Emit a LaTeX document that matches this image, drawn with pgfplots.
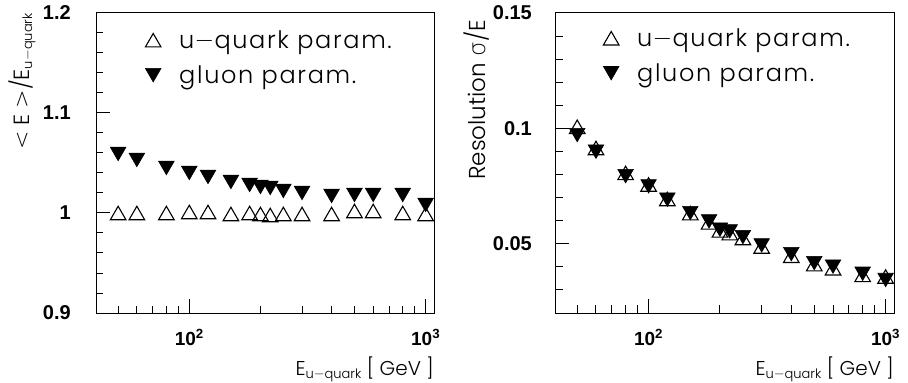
\documentclass[border=0pt]{standalone}
\usepackage{pgfplots}
\pgfplotsset{compat=1.18}
\usepackage{fontspec}
\setmainfont{DejaVu Sans}
\newfontfamily\lightfont{Poppins Light}
\newfontfamily\legfont{Poppins Light}[LetterSpace=7]
\newfontfamily\djl{DejaVu Sans ExtraLight}
\newfontfamily\tickfont{Liberation Sans}
\newcommand{\sub}[1]{\raisebox{-3pt}{\fontsize{13}{14}\selectfont #1}}
\newcommand{\mn}{{\djl −}}

\pgfplotstableread{
x u g
50 1.000 1.059
60 1.000 1.053
80 1.000 1.045
100 1.001 1.040
120 1.001 1.036
150 0.999 1.031
180 1.000 1.028
200 0.999 1.026
220 0.998 1.025
250 0.999 1.022
300 0.999 1.020
400 0.999 1.017
500 1.002 1.018
600 1.002 1.018
800 1.000 1.018
1000 0.999 1.008
}\meantab

\pgfplotstableread{
x u g
50 0.1007 0.0971
60 0.0915 0.0899
80 0.0807 0.0793
100 0.0757 0.0749
120 0.0694 0.0691
150 0.0633 0.0633
180 0.0593 0.0597
200 0.0558 0.0561
220 0.0546 0.0554
250 0.0525 0.0529
300 0.0488 0.0493
400 0.0448 0.0455
500 0.0412 0.0416
600 0.0394 0.0401
800 0.0365 0.0370
1000 0.0358 0.0343
}\restab

\begin{document}
\begin{tikzpicture}
\begin{axis}[
  scale only axis, width=338pt, height=300pt,
  xmode=log, xmin=40.3, xmax=1085,
  tick align=inside, xtick pos=bottom, ytick pos=left,
  major tick length=14pt, minor tick length=7.5pt,
  axis line style={line width=1pt},
  every tick/.style={line width=1pt, black},
  xtick={100,1000},
  xticklabels={10\textsuperscript{2},10\textsuperscript{3}},
  minor xtick={50,60,70,80,90,200,300,400,500,600,700,800,900},
  xticklabel style={font=\fontsize{19}{21}\selectfont\tickfont\bfseries, anchor=base, inner sep=0pt, yshift=-32pt},
  yticklabel style={font=\fontsize{20}{22}\selectfont\tickfont\bfseries, anchor=east, inner sep=0pt, xshift=-25pt},
  scaled y ticks=false,
  xlabel style={at={(axis description cs:1,0)}, anchor=base east, yshift=-62pt, inner sep=0pt, font=\fontsize{20}{24}\selectfont\lightfont},
  legend cell align=left,
  legend image code/.code={\path[draw=none,fill=none] (-8pt,-12pt) rectangle (26pt,12pt); \draw[#1] plot coordinates {(0pt,0pt)};},
  legend style={draw=none, fill=none, at={(axis description cs:0,1)}, anchor=north west,
    font=\fontsize{24}{28}\selectfont\legfont, nodes={inner sep=0pt, font=\fontsize{24}{28}\selectfont\legfont}, row sep=11pt, inner sep=0pt,
    xshift=49pt, yshift=-15pt},
  ymin=0.9, ymax=1.2, ytick={0.9,1,1.1,1.2}, yticklabels={0.9,1,1.1,1.2},
  minor ytick={0.92,0.94,0.96,0.98,1.02,1.04,1.06,1.08,1.12,1.14,1.16,1.18},
  xlabel={E\sub{u\mn quark} [ GeV ]},
  ylabel={{\djl <} E {\djl >}/E\sub{u\mn quark}},
  ylabel style={at={(axis description cs:-0.219,1)}, anchor=east, inner sep=0pt, font=\fontsize{22}{24}\selectfont\lightfont},
]
\addplot[only marks, mark=triangle, mark size=9pt, line width=1.1pt, black, mark options={yshift=-2.25pt}] table[x=x, y=u] {\meantab};
\addlegendentry{u\mn quark param.}
\addplot[only marks, mark=triangle*, mark size=9pt, line width=0.6pt, black, mark options={fill=black, yshift=2.25pt, rotate=180}] table[x=x, y=g] {\meantab};
\addlegendentry{gluon param.}
\end{axis}

\begin{axis}[
  at={(459pt,0pt)},
  scale only axis, width=339pt, height=300pt,
  xmode=log, xmin=40.3, xmax=1085,
  tick align=inside, xtick pos=bottom, ytick pos=left,
  major tick length=14pt, minor tick length=7.5pt,
  axis line style={line width=1pt},
  every tick/.style={line width=1pt, black},
  xtick={100,1000},
  xticklabels={10\textsuperscript{2},10\textsuperscript{3}},
  minor xtick={50,60,70,80,90,200,300,400,500,600,700,800,900},
  xticklabel style={font=\fontsize{19}{21}\selectfont\tickfont\bfseries, anchor=base, inner sep=0pt, yshift=-32pt},
  yticklabel style={font=\fontsize{20}{22}\selectfont\tickfont\bfseries, anchor=east, inner sep=0pt, xshift=-23pt},
  scaled y ticks=false,
  xlabel style={at={(axis description cs:1,0)}, anchor=base east, yshift=-62pt, inner sep=0pt, font=\fontsize{20}{24}\selectfont\lightfont},
  legend cell align=left,
  legend image code/.code={\path[draw=none,fill=none] (-8pt,-12pt) rectangle (26pt,12pt); \draw[#1] plot coordinates {(0pt,0pt)};},
  legend style={draw=none, fill=none, at={(axis description cs:0,1)}, anchor=north west,
    font=\fontsize{24}{28}\selectfont\legfont, nodes={inner sep=0pt, font=\fontsize{24}{28}\selectfont\legfont}, row sep=11pt, inner sep=0pt,
    xshift=48pt, yshift=-13pt},
  ymin=0.02, ymax=0.15, ytick={0.05,0.1,0.15}, yticklabels={0.05,0.1,0.15},
  minor ytick={0.03,0.04,0.06,0.07,0.08,0.09,0.11,0.12,0.13,0.14},
  xlabel={E\sub{u\mn quark} [ GeV ]},
  ylabel={Resolution {\djl σ}/E},
  ylabel style={at={(axis description cs:-0.2301,0.9767)}, anchor=east, inner sep=0pt, font=\fontsize{23}{25}\selectfont\lightfont},
]
\addplot[only marks, mark=triangle, mark size=9pt, line width=1.1pt, black, mark options={yshift=-2.25pt}] table[x=x, y=u] {\restab};
\addlegendentry{u\mn quark param.}
\addplot[only marks, mark=triangle*, mark size=9pt, line width=0.6pt, black, mark options={fill=black, yshift=2.25pt, rotate=180}] table[x=x, y=g] {\restab};
\addlegendentry{gluon param.}
\end{axis}
\pgfresetboundingbox
\path[use as bounding box] (-96pt,-70pt) rectangle (812pt,313pt);
\end{tikzpicture}
\end{document}
